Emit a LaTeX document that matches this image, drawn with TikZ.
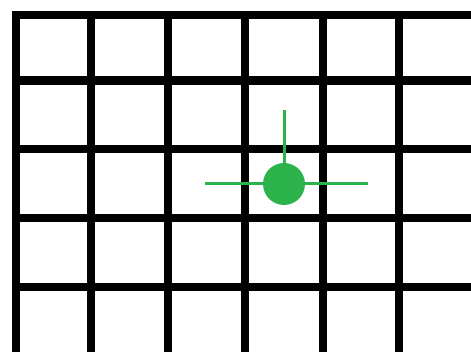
\documentclass[tikz,border=0pt]{standalone}
\usetikzlibrary{positioning}
\definecolor{dotgreen}{HTML}{2DB34C}
\tikzset{
  gridline/.style={line width=8.5pt, draw=black},
  arm/.style={line width=3pt, draw=dotgreen},
  probe/.style={circle, fill=dotgreen, minimum size=42pt, inner sep=0pt},
}
\begin{document}
\begin{tikzpicture}[x=1pt,y=-1pt]
  \useasboundingbox (0,0) rectangle (471,352);
  \clip (0,0) rectangle (471,352);
  % grid
  \foreach \x in {16,91,168,245,323,399}
    \draw[gridline] (\x,11) -- (\x,360);
  \foreach \y in {15,80.5,149,218,287}
    \draw[gridline] (11.75,\y) -- (480,\y);
  % green marker
  \node (dot) [probe] at (284,184) {};
  \coordinate (lft) at (205,184);
  \coordinate (rgt) at (368,184);
  \coordinate (top) at (284,110);
  \draw[arm] (lft) -- (dot) -- (rgt);
  \draw[arm] (dot) -- (top);
\end{tikzpicture}
\end{document}
